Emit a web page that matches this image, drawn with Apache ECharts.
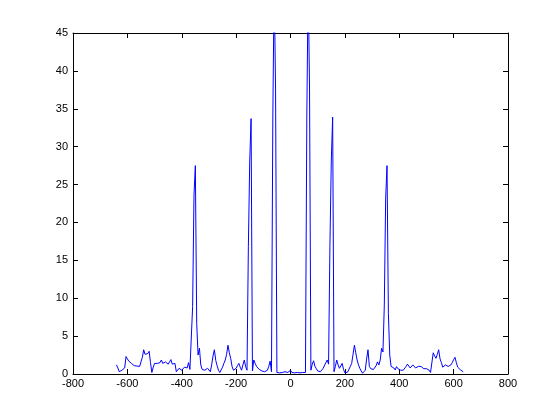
<!DOCTYPE html>
<html>
<head>
<meta charset="utf-8">
<script src="https://cdn.jsdelivr.net/npm/echarts@6/dist/echarts.min.js"></script>
<style>
html,body{margin:0;padding:0;background:#fff;}
#chart{width:560px;height:420px;}
</style>
</head>
<body>
<div id="chart"></div>
<script>
// Frequency sampling grid (bins from -640, step 5)
const FREQ_START = -640;
const FREQ_STEP = 5;
// Magnitude values, one per bin
const magnitude = [
  1.2, 0.8, 0.3, 0.5, 0.5, 0.3, 0.8, 2.3, 2.0, 1.7,
  1.6, 1.4, 1.2, 1.1, 1.1, 1.05, 1.0, 1.0, 1.0, 2.2,
  3.2, 2.6, 2.5, 2.7, 3.0, 1.5, 0.2, 0.9, 1.4, 1.5,
  1.4, 1.3, 1.5, 1.85, 1.4, 1.4, 1.6, 1.4, 1.3, 1.6,
  1.9, 1.3, 1.2, 1.4, 0.3, 0.5, 0.75, 0.6, 0.5, 0.7,
  0.9, 0.8, 0.8, 1.5, 0.6, 0.5, 8.9, 23.6, 27.5, 6.7,
  2.5, 3.4, 1.2, 0.6, 0.5, 0.5, 0.6, 0.75, 0.5, 0.3,
  1.2, 2.4, 3.2, 1.8, 1.1, 0.5, 0.2, 0.2, 0.9, 1.4,
  1.85, 2.6, 3.8, 2.8, 2.07, 1.0, 0.5, 0.6, 0.75, 1.1,
  1.4, 0.9, 0.5, 1.2, 1.85, 0.97, 0.5, 16.8, 28.1, 33.7,
  0.4, 1.85, 1.4, 1.0, 0.8, 0.6, 0.5, 0.4, 0.35, 0.3,
  0.4, 0.5, 1.0, 1.7, 0.3, 33.9, 52, 37.6, 0.2, 0.1,
  0.15, 0.1, 0.2, 0.15, 0.3, 0.1, 0.2, 0.15, 0.5, 0.2,
  0.3, 0.15, 0.1, 0.2, 0.1, 0.15, 0.1, 0.2, 0.1, 0.2,
  33.9, 52, 37.6, 0.5, 1.3, 1.75, 1.0, 0.7, 0.4, 0.3,
  0.3, 0.5, 0.75, 1.0, 1.5, 1.85, 1.3, 17, 28.1, 33.9,
  0.3, 1.0, 1.85, 1.2, 0.75, 1.0, 1.4, 0.6, 0.15, 0.2,
  0.25, 0.5, 1.0, 1.4, 2.6, 3.8, 2.8, 1.85, 1.2, 0.75,
  0.4, 0.1, 0.3, 0.5, 2.0, 3.2, 1.0, 0.7, 0.5, 0.6,
  0.75, 1.1, 1.6, 1.2, 1.85, 3.4, 2.9, 9, 23.2, 27.5,
  8, 2.5, 1.0, 1.2, 0.8, 0.53, 0.97, 0.7, 0.5, 0.5,
  0.4, 0.5, 0.6, 1.0, 1.3, 1.1, 0.8, 0.75, 1.2, 1.0,
  0.8, 0.75, 1.0, 1.2, 1.0, 0.9, 0.7, 0.6, 0.7, 0.75,
  0.5, 0.2, 0.1, 2.8, 2.4, 2.07, 2.6, 3.2, 2.0, 1.5,
  0.9, 1.0, 1.2, 1.1, 1.0, 1.0, 1.2, 1.5, 1.9, 2.2,
  1.5, 0.9, 0.75, 0.55, 0.4, 0.3
];
// Axis ranges / ticks
const xTicks = [-800, -600, -400, -200, 0, 200, 400, 600, 800];
const yTicks = [0, 5, 10, 15, 20, 25, 30, 35, 40, 45];

const freq = magnitude.map((_, i) => FREQ_START + FREQ_STEP * i);
const points = freq.map((f, i) => [f, magnitude[i]]);

const chart = echarts.init(document.getElementById('chart'), null, {renderer: 'canvas'});
const font = {fontFamily: 'Liberation Sans', fontSize: 11, color: '#000'};
const axisLine = {show: true, onZero: false, lineStyle: {color: '#000', width: 1}};
const tick = {show: true, inside: true, length: 5, lineStyle: {color: '#000', width: 1}};
const xMin = xTicks[0], xMax = xTicks[xTicks.length - 1], xInt = xTicks[1] - xTicks[0];
const yMin = yTicks[0], yMax = yTicks[yTicks.length - 1], yInt = yTicks[1] - yTicks[0];

chart.setOption({
  animation: false,
  backgroundColor: '#fff',
  grid: {left: 73, right: 52, top: 33, bottom: 46, containLabel: false},
  xAxis: [
    {type: 'value', min: xMin, max: xMax, interval: xInt, position: 'bottom',
     axisLine: axisLine, axisTick: tick, splitLine: {show: false},
     axisLabel: Object.assign({margin: 4}, font)},
    {type: 'value', min: xMin, max: xMax, interval: xInt, position: 'top',
     axisLine: axisLine, axisTick: tick, splitLine: {show: false},
     axisLabel: {show: false}}
  ],
  yAxis: [
    {type: 'value', min: yMin, max: yMax, interval: yInt, position: 'left',
     axisLine: axisLine, axisTick: tick, splitLine: {show: false},
     axisLabel: Object.assign({margin: 5}, font)},
    {type: 'value', min: yMin, max: yMax, interval: yInt, position: 'right',
     axisLine: axisLine, axisTick: tick, splitLine: {show: false},
     axisLabel: {show: false}}
  ],
  series: [{
    type: 'line',
    data: points,
    xAxisIndex: 0,
    yAxisIndex: 0,
    showSymbol: false,
    clip: true,
    lineStyle: {color: '#0000ff', width: 1},
    itemStyle: {color: '#0000ff'}
  }]
});
</script>
</body>
</html>
